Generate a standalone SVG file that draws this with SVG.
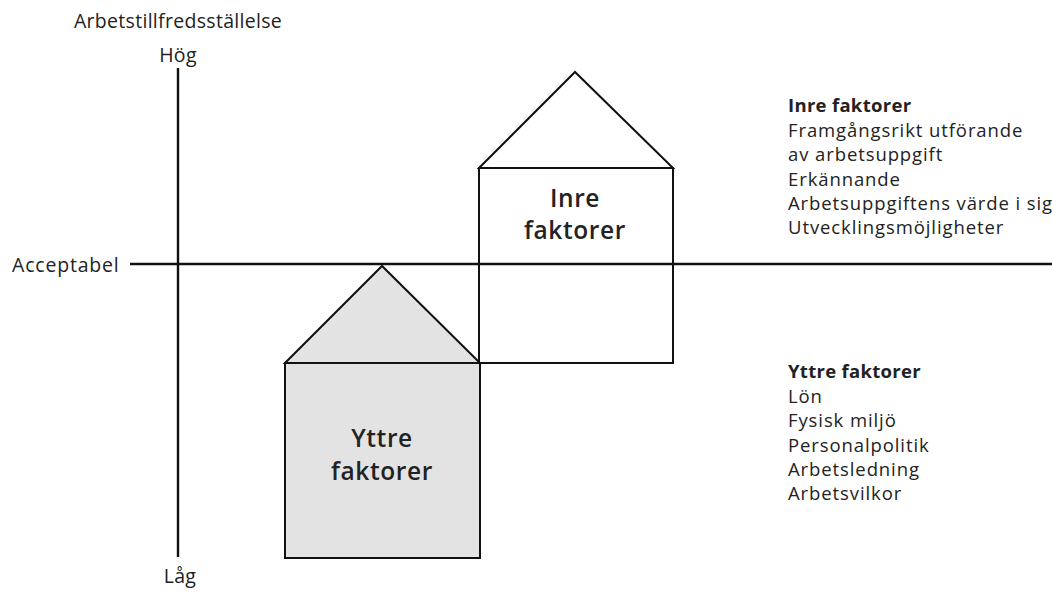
<svg xmlns="http://www.w3.org/2000/svg" width="1052" height="592" viewBox="0 0 1052 592">
<style>
text{font-family:"Open Sans","Noto Sans",sans-serif;fill:#222}
.ax{font-size:19.5px;letter-spacing:0.3px}
.lst{font-size:18.5px;letter-spacing:0.9px}
.b{font-weight:bold;letter-spacing:0.3px}
.hl{font-size:24.5px;font-weight:600;text-anchor:middle;letter-spacing:0.6px}
.ln{stroke:#111;stroke-width:2.4;fill:none}
.hs{stroke:#111;stroke-width:2}
</style>
<rect width="1052" height="592" fill="#fff"/>
<g id="axes">
<line class="ln" x1="178" y1="68" x2="178" y2="557"/>
<line class="ln" x1="130" y1="264" x2="1052" y2="264"/>
<text class="ax" x="178" y="28" text-anchor="middle">Arbetstillfredsställelse</text>
<text class="ax" x="178" y="62" text-anchor="middle">Hög</text>
<text class="ax" x="12" y="272" style="letter-spacing:0.8px">Acceptabel</text>
<text class="ax" x="180" y="583" text-anchor="middle">Låg</text>
</g>
<g id="yttre">
<path class="hs" d="M285,363 L382,266 L480,363 Z M285,363 H480 V558 H285 Z" fill="#e3e3e3"/>
<text class="hl" x="382" y="447">Yttre</text>
<text class="hl" x="382" y="480">faktorer</text>
</g>
<g id="inre">
<path class="hs" d="M479,168 L575,72 L673,168 Z M479,168 H673 V363 H479 Z" fill="none"/>
<text class="hl" x="575" y="207">Inre</text>
<text class="hl" x="575" y="239">faktorer</text>
</g>
<g id="inre-list" class="lst">
<text x="788" y="112" class="b">Inre faktorer</text>
<text x="788" y="137">Framgångsrikt utförande</text>
<text x="788" y="161">av arbetsuppgift</text>
<text x="788" y="186">Erkännande</text>
<text x="788" y="210">Arbetsuppgiftens värde i sig</text>
<text x="788" y="234">Utvecklingsmöjligheter</text>
</g>
<g id="yttre-list" class="lst">
<text x="788" y="378" class="b">Yttre faktorer</text>
<text x="788" y="403">Lön</text>
<text x="788" y="427">Fysisk miljö</text>
<text x="788" y="452">Personalpolitik</text>
<text x="788" y="476">Arbetsledning</text>
<text x="788" y="500">Arbetsvilkor</text>
</g>
<g id="connectors"></g>
</svg>
